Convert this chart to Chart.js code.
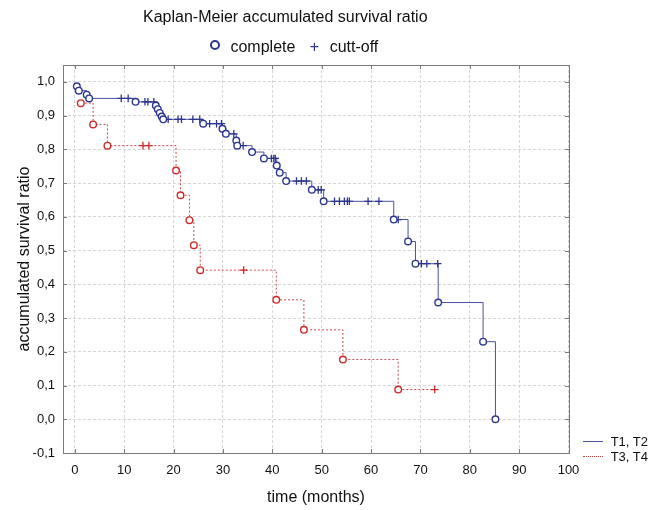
<!DOCTYPE html>
<html>
<head>
<meta charset="utf-8">
<script src="https://cdn.jsdelivr.net/npm/chart.js@4.4.0/dist/chart.umd.min.js"></script>
<style>
  html, body { margin:0; padding:0; background:#fff; }
  #wrap { position:relative; width:652px; height:510px; font-family:"Liberation Sans", Arial, sans-serif; color:#111; }
  canvas { position:absolute; left:0; top:0; }
  .t { position:absolute; white-space:nowrap; line-height:1; }
</style>
</head>
<body>
<div id="wrap">
  <canvas id="c" width="652" height="510"></canvas>
  <div class="t" id="title" style="left:143px; top:9px; font-size:16px;">Kaplan-Meier accumulated survival ratio</div>
  <div class="t" id="leg1" style="left:210px; top:39px; font-size:16px;">
    <span style="display:inline-block;width:6px;height:6px;border:2px solid #2c3590;border-radius:50%;vertical-align:2px;"></span>
    <span style="margin-left:6px;">complete</span>
    <span style="margin-left:10px;color:#2c3590;font-size:16px;">+</span>
    <span style="margin-left:6px;">cutt-off</span>
  </div>
  <div class="t" style="left:583px; top:435px; font-size:13px;">
    <span style="display:inline-block;width:20px;border-top:1px solid #4a52a0;vertical-align:4px;"></span>
    <span style="margin-left:4px;">T1, T2</span>
  </div>
  <div class="t" style="left:583px; top:450px; font-size:13px;">
    <span style="display:inline-block;width:20px;border-top:1px dotted #c04040;vertical-align:4px;"></span>
    <span style="margin-left:4px;">T3, T4</span>
  </div>
</div>
<script>
// ---- data ----
const xTickValues = [0, 10, 20, 30, 40, 50, 60, 70, 80, 90, 100];
const yTickValues = [-0.1, 0.0, 0.1, 0.2, 0.3, 0.4, 0.5, 0.6, 0.7, 0.8, 0.9, 1.0];
const yTickLabels = ['-0,1', '0,0', '0,1', '0,2', '0,3', '0,4', '0,5', '0,6', '0,7', '0,8', '0,9', '1,0'];

// T1, T2 (blue) — events (complete) and censored (cutt-off)
const blueEventT = [0.4, 0.8, 2.4, 2.9, 12.3, 16.4, 16.8, 17.2, 17.6, 17.9, 26.0, 29.9, 30.6, 32.7, 32.9, 35.9, 38.3, 40.9, 41.5, 42.8, 48.0, 50.4, 64.6, 67.5, 69.0, 73.6, 82.7, 85.2];
const blueEventS = [0.987, 0.974, 0.962, 0.951, 0.941, 0.930, 0.919, 0.908, 0.897, 0.889, 0.876, 0.861, 0.846, 0.826, 0.811, 0.792, 0.773, 0.752, 0.731, 0.706, 0.680, 0.646, 0.592, 0.527, 0.461, 0.346, 0.230, 0.0];
const blueCensorT = [9.4, 10.8, 14.2, 14.8, 16.0, 18.9, 20.9, 21.6, 23.9, 25.3, 27.3, 28.7, 29.7, 32.2, 34.1, 39.8, 40.3, 40.6, 44.9, 45.9, 46.9, 49.3, 49.9, 52.6, 53.6, 54.6, 55.2, 55.6, 59.4, 61.6, 65.5, 70.2, 71.3, 73.5];
const blueCensorS = [0.951, 0.951, 0.941, 0.941, 0.941, 0.889, 0.889, 0.889, 0.889, 0.889, 0.876, 0.876, 0.876, 0.846, 0.811, 0.773, 0.773, 0.773, 0.706, 0.706, 0.706, 0.680, 0.680, 0.646, 0.646, 0.646, 0.646, 0.646, 0.646, 0.646, 0.592, 0.461, 0.461, 0.461];

// T3, T4 (red)
const redEventT = [1.2, 3.7, 6.6, 20.5, 21.4, 23.2, 24.1, 25.4, 40.8, 46.4, 54.3, 65.5];
const redEventS = [0.937, 0.874, 0.811, 0.737, 0.664, 0.590, 0.516, 0.442, 0.354, 0.265, 0.177, 0.088];
const redCensorT = [13.8, 15.0, 34.2, 72.9];
const redCensorS = [0.811, 0.811, 0.442, 0.088];

// ---- build tables ----
function pts(ts, ss) { return ts.map((t, i) => ({x: t, y: ss[i]})); }
function path(eT, eS, cT, cS) {
  return pts(eT, eS).concat(pts(cT, cS)).sort((a, b) => a.x - b.x);
}

const BLUE_LINE = '#4a52a0', BLUE_MARK = '#2c3590';
const RED_LINE = '#c84848', RED_MARK = '#d02828';

const framePlugin = {
  id: 'frame',
  beforeDatasetsDraw(chart) {
    const {ctx, chartArea: a, scales} = chart;
    ctx.save();
    ctx.strokeStyle = '#7a7a7a';
    ctx.lineWidth = 1;
    ctx.setLineDash([]);
    ctx.strokeRect(Math.round(a.left) + 0.5, Math.round(a.top) + 0.5, Math.round(a.right - a.left), Math.round(a.bottom - a.top));
    ctx.beginPath();
    xTickValues.forEach(v => {
      const px = Math.round(scales.x.getPixelForValue(v)) + 0.5;
      ctx.moveTo(px, a.bottom); ctx.lineTo(px, a.bottom - 4);
      ctx.moveTo(px, a.top); ctx.lineTo(px, a.top + 4);
    });
    yTickValues.forEach(v => {
      const py = Math.round(scales.y.getPixelForValue(v)) + 0.5;
      ctx.moveTo(a.left, py); ctx.lineTo(a.left + 4, py);
      ctx.moveTo(a.right, py); ctx.lineTo(a.right - 4, py);
    });
    ctx.stroke();
    ctx.restore();
  }
};

const fontFam = '"Liberation Sans", Arial, sans-serif';

new Chart(document.getElementById('c'), {
  type: 'scatter',
  data: {
    datasets: [
      { label: 'T1, T2 complete', data: pts(blueEventT, blueEventS), pointStyle: 'circle', pointRadius: 3.3,
        pointBorderColor: BLUE_MARK, pointBackgroundColor: '#ffffff', pointBorderWidth: 1.4, showLine: false, order: 1 },
      { label: 'T1, T2 cutt-off', data: pts(blueCensorT, blueCensorS), pointStyle: 'cross', pointRadius: 3.8,
        pointBorderColor: BLUE_MARK, pointBorderWidth: 1.3, showLine: false, order: 2 },
      { label: 'T3, T4 complete', data: pts(redEventT, redEventS), pointStyle: 'circle', pointRadius: 3.3,
        pointBorderColor: RED_MARK, pointBackgroundColor: '#ffffff', pointBorderWidth: 1.4, showLine: false, order: 3 },
      { label: 'T3, T4 cutt-off', data: pts(redCensorT, redCensorS), pointStyle: 'cross', pointRadius: 3.8,
        pointBorderColor: RED_MARK, pointBorderWidth: 1.3, showLine: false, order: 4 },
      { label: 'T1, T2', data: path(blueEventT, blueEventS, blueCensorT, blueCensorS), showLine: true, stepped: 'before',
        borderColor: BLUE_LINE, borderWidth: 1, pointRadius: 0, order: 5 },
      { label: 'T3, T4', data: path(redEventT, redEventS, redCensorT, redCensorS), showLine: true, stepped: 'before',
        borderColor: RED_LINE, borderWidth: 1, borderDash: [2, 2], pointRadius: 0, order: 6 }
    ]
  },
  options: {
    responsive: false,
    animation: false,
    events: [],
    layout: { padding: { top: 65, right: 83, left: 0, bottom: 0 } },
    plugins: { legend: { display: false }, title: { display: false }, tooltip: { enabled: false } },
    scales: {
      x: {
        type: 'linear', min: -2.4, max: 100.1,
        afterBuildTicks: s => { s.ticks = xTickValues.map(v => ({value: v})); },
        afterFit: s => { s.height = 57; },
        grid: { color: '#d6d6d6', drawTicks: false, lineWidth: 1 },
        border: { display: false, dash: [3, 2] },
        ticks: { padding: 10, color: '#111', font: { family: fontFam, size: 13 }, maxRotation: 0, autoSkip: false,
                 callback: v => String(v) },
        title: { display: true, text: 'time (months)', color: '#111', font: { family: fontFam, size: 16 }, padding: { top: 3, bottom: 3 } }
      },
      y: {
        type: 'linear', min: -0.1, max: 1.05,
        afterBuildTicks: s => { s.ticks = yTickValues.map(v => ({value: v})); },
        afterFit: s => { s.width = 63; },
        grid: { color: '#d6d6d6', drawTicks: false, lineWidth: 1 },
        border: { display: false, dash: [3, 2] },
        ticks: { padding: 8, color: '#111', font: { family: fontFam, size: 13 }, autoSkip: false,
                 callback: (v, i) => yTickLabels[yTickValues.findIndex(t => Math.abs(t - v) < 1e-9)] },
        title: { display: true, text: 'accumulated survival ratio', color: '#111', font: { family: fontFam, size: 16 }, padding: { top: 15, bottom: 15 } }
      }
    }
  },
  plugins: [framePlugin]
});
</script>
</body>
</html>
